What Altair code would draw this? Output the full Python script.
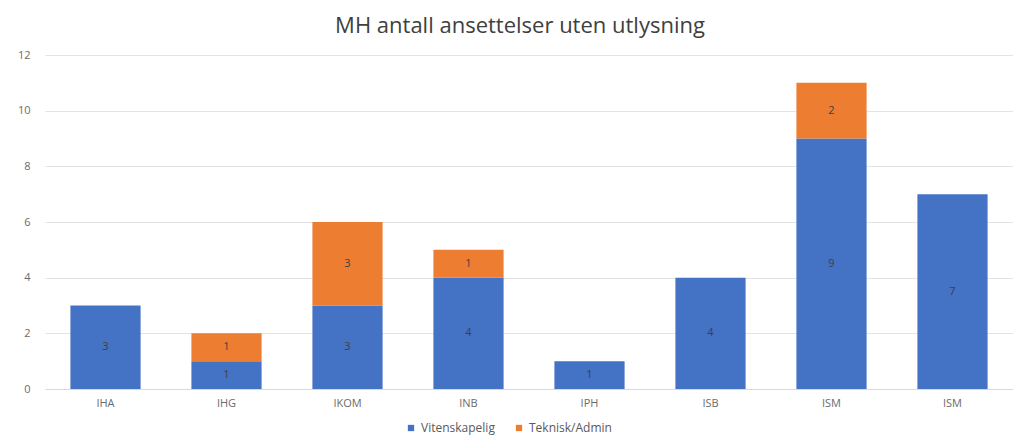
import json
import altair as alt
import pandas as pd

categories = ["IHA", "IHG", "IKOM", "INB", "IPH", "ISB", "ISM", "ISM"]
vitenskapelig = [3, 1, 3, 4, 1, 4, 9, 7]
teknisk_admin = [0, 1, 3, 1, 0, 0, 2, 0]
series = ["Vitenskapelig", "Teknisk/Admin"]
colors = ["#4472C4", "#ED7D31"]

FONT = "Open Sans"

rows = []
for i, c in enumerate(categories):
    rows.append({"key": i, "cat": c, "serie": series[0], "ord": 0, "value": vitenskapelig[i]})
    rows.append({"key": i, "cat": c, "serie": series[1], "ord": 1, "value": teknisk_admin[i]})
df = pd.DataFrame(rows)

label_expr = json.dumps(categories) + "[datum.value]"

base = alt.Chart(df).transform_filter("datum.value > 0").transform_stack(
    stack="value", as_=["y0", "y1"], groupby=["key"], sort=[alt.SortField("ord")]
).transform_calculate(mid="(datum.y0 + datum.y1) / 2")

x = alt.X("key:O", title=None,
          scale=alt.Scale(paddingInner=0.42, paddingOuter=0.21),
          axis=alt.Axis(labelExpr=label_expr, labelAngle=0, labelColor="#6b6b6b",
                        labelFont=FONT, labelFontSize=11, labelPadding=8,
                        ticks=False, domainColor="#d9d9d9", grid=False))

bars = base.mark_bar().encode(
    x=x,
    y=alt.Y("y0:Q", title=None, scale=alt.Scale(domain=[0, 12]),
            axis=alt.Axis(values=[0, 2, 4, 6, 8, 10, 12], labelColor="#6b6b6b",
                          labelFont=FONT, labelFontSize=11, labelPadding=15,
                          ticks=False, domain=False, gridColor="#e3e3e3")),
    y2="y1:Q",
    color=alt.Color("serie:N", title=None,
                    scale=alt.Scale(domain=series, range=colors),
                    legend=alt.Legend(orient="none", legendX=360, legendY=367,
                                      direction="horizontal",
                                      symbolType="square", symbolSize=40,
                                      columnPadding=18,
                                      labelFont=FONT, labelFontSize=12,
                                      labelColor="#595959")),
)

text = base.mark_text(color="#404040", font=FONT, fontSize=11).encode(
    x=alt.X("key:O"),
    y=alt.Y("mid:Q"),
    text=alt.Text("value:Q"),
)

chart = alt.layer(bars, text).properties(
    width=968, height=334,
    padding={"left": 9, "top": 7, "right": 0, "bottom": 4},
    title=alt.TitleParams("MH antall ansettelser uten utlysning", font=FONT,
                          fontSize=22, fontWeight="normal", color="#404040", offset=11,
                          anchor="middle", dx=-9),
).configure_view(stroke=None)

chart.save("out.html", embed_options={"renderer": "svg", "actions": False})
